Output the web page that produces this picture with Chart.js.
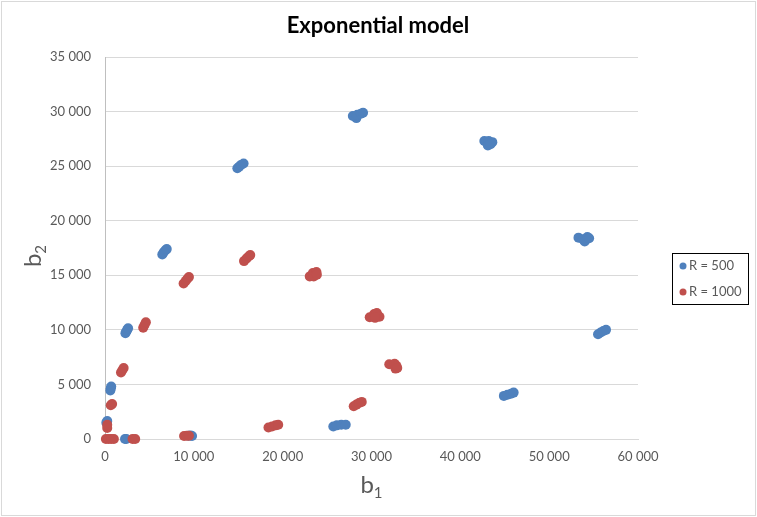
<!DOCTYPE html>
<html>
<head>
<meta charset="utf-8">
<script src="https://cdn.jsdelivr.net/npm/chart.js@4/dist/chart.umd.min.js"></script>
<style>
  html, body { margin: 0; padding: 0; background: #fff; }
  #wrap { width: 757px; height: 517px; }
</style>
</head>
<body>
<div id="wrap"><canvas id="chart" width="757" height="517"></canvas></div>
<script>
// b1, b2 estimates, one small blob per group
const r500 = [
  [150, 1500], [250, 1650],
  [600, 4450], [650, 4650], [700, 4800],
  [2250, 0], [2400, 0],
  [9400, 300], [9650, 320], [9800, 280],
  [2300, 9700], [2400, 9850], [2500, 10000], [2600, 10150],
  [6450, 16900], [6600, 17100], [6800, 17300], [6950, 17400],
  [14900, 24800], [15100, 24950], [15300, 25100], [15600, 25250],
  [27900, 29600], [28300, 29400], [28400, 29700], [28800, 29800], [29050, 29900],
  [42700, 27300], [43200, 27300], [43600, 27200], [43100, 26900], [43400, 27000],
  [53300, 18450], [53800, 18300], [54300, 18500], [54000, 18100], [54500, 18400],
  [55500, 9600], [55800, 9750], [56100, 9900], [56400, 10000],
  [44900, 3950], [45300, 4050], [45700, 4150], [46000, 4250],
  [25700, 1150], [26100, 1250], [26600, 1300], [27100, 1300]
]
const r1000 = [
  [100, 0], [400, 0], [700, 0], [1000, 0],
  [3100, 0], [3400, 0],
  [250, 1000], [250, 1300],
  [650, 3100], [800, 3200],
  [1800, 6100], [1950, 6300], [2100, 6500],
  [4300, 10200], [4450, 10450], [4600, 10700],
  [8850, 14250], [9100, 14500], [9300, 14700], [9450, 14850],
  [15650, 16300], [15950, 16550], [16200, 16750], [16350, 16850],
  [23050, 14900], [23400, 15200], [23800, 15300], [23500, 14900], [23850, 15050],
  [29800, 11150], [30300, 11450], [30600, 11550], [30900, 11200], [30400, 11100],
  [32000, 6850], [32600, 6900], [32800, 6700], [32700, 6450], [32900, 6500],
  [28000, 3000], [28300, 3150], [28600, 3300], [28900, 3400],
  [18400, 1050], [18800, 1150], [19200, 1250], [19500, 1300],
  [8900, 280], [9200, 300], [9450, 300]
]
const seriesLabels = ['R = 500', 'R = 1000']
const seriesColors = ['#4F81BD', '#C0504D']
const xTicks = [0, 10000, 20000, 30000, 40000, 50000, 60000]
const yTicks = [0, 5000, 10000, 15000, 20000, 25000, 30000, 35000]

const FONT = 'Lato, "Liberation Sans", sans-serif'
const fmt = v => String(v).replace(/\B(?=(\d{3})+(?!\d))/g, ' ')
const toPts = arr => arr.map(p => ({ x: p[0], y: p[1] }))

// title, axis titles with subscripts, legend box, outer frame
const decor = {
  id: 'decor',
  afterDraw (chart) {
    const ctx = chart.ctx
    const a = chart.chartArea
    ctx.save()
    ctx.strokeStyle = '#d9d9d9'
    ctx.lineWidth = 1
    ctx.strokeRect(1.5, 1.5, 754, 514)

    ctx.fillStyle = '#000'
    ctx.font = 'bold 22px ' + FONT
    ctx.textAlign = 'center'
    ctx.textBaseline = 'middle'
    ctx.fillText('Exponential model', 378, 26)

    const sub = (main, s, x, y) => {
      ctx.font = '24px ' + FONT
      const w1 = ctx.measureText(main).width
      ctx.font = '15px ' + FONT
      const w2 = ctx.measureText(s).width
      const left = x - (w1 + w2) / 2
      ctx.textAlign = 'left'
      ctx.textBaseline = 'alphabetic'
      ctx.font = '24px ' + FONT
      ctx.fillText(main, left, y)
      ctx.font = '15px ' + FONT
      ctx.fillText(s, left + w1, y + 5)
    }
    ctx.fillStyle = '#595959'
    sub('b', '1', (a.left + a.right) / 2, 493)
    ctx.save()
    ctx.translate(41, (a.top + a.bottom) / 2 + 8)
    ctx.rotate(-Math.PI / 2)
    sub('b', '2', 0, 0)
    ctx.restore()

    ctx.strokeStyle = '#000'
    ctx.strokeRect(672.5, 253.5, 76, 51)
    ctx.font = '13px ' + FONT
    ctx.textAlign = 'left'
    ctx.textBaseline = 'middle'
    seriesLabels.forEach((lab, i) => {
      const y = 266 + i * 26
      ctx.fillStyle = seriesColors[i]
      ctx.beginPath()
      ctx.arc(683, y, 3.5, 0, Math.PI * 2)
      ctx.fill()
      ctx.fillStyle = '#595959'
      ctx.fillText(lab, 689, y)
    })
    ctx.restore()
  }
}

new Chart(document.getElementById('chart'), {
  type: 'scatter',
  data: {
    datasets: [
      {
        label: seriesLabels[0],
        data: toPts(r500),
        backgroundColor: seriesColors[0],
        borderColor: seriesColors[0],
        pointRadius: 5,
        borderWidth: 0,
        clip: false,
        order: 2
      },
      {
        label: seriesLabels[1],
        data: toPts(r1000),
        backgroundColor: seriesColors[1],
        borderColor: seriesColors[1],
        pointRadius: 5,
        borderWidth: 0,
        clip: false,
        order: 1
      }
    ]
  },
  options: {
    responsive: false,
    animation: false,
    events: [],
    layout: { padding: { left: 45, top: 57, right: 119, bottom: 48 } },
    plugins: {
      legend: { display: false },
      title: { display: false },
      tooltip: { enabled: false }
    },
    scales: {
      x: {
        type: 'linear',
        min: 0,
        max: 60000,
        afterFit (s) { s.height = 30 },
        afterBuildTicks (s) { s.ticks = xTicks.map(v => ({ value: v })) },
        grid: { display: false, drawTicks: false },
        border: { display: true, color: '#d9d9d9', width: 1 },
        ticks: {
          padding: 10,
          color: '#595959',
          font: { family: FONT, size: 13 },
          maxRotation: 0,
          callback: v => fmt(v)
        }
      },
      y: {
        type: 'linear',
        min: 0,
        max: 35000,
        afterFit (s) { s.width = 60 },
        afterBuildTicks (s) { s.ticks = yTicks.map(v => ({ value: v })) },
        grid: { color: '#d9d9d9', drawTicks: false },
        border: { display: true, color: '#bfbfbf', width: 1 },
        ticks: {
          padding: 14,
          color: '#595959',
          font: { family: FONT, size: 13 },
          callback: v => fmt(v)
        }
      }
    }
  },
  plugins: [decor]
})
</script>
</body>
</html>
